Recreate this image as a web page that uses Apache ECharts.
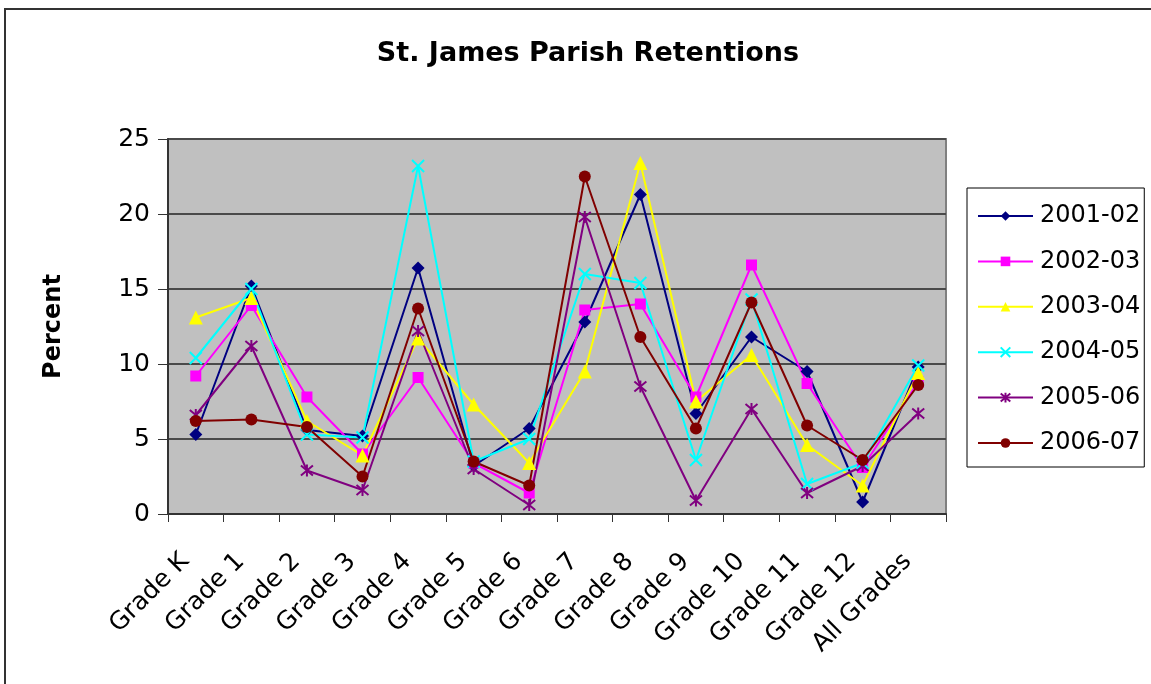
<!DOCTYPE html>
<html>
<head>
<meta charset="utf-8">
<script src="https://cdn.jsdelivr.net/npm/echarts@6/dist/echarts.min.js"></script>
<style>
html,body{margin:0;padding:0;background:#fff;}
#chart{width:1151px;height:684px;}
</style>
</head>
<body>
<div id="chart"></div>
<script>
const categories = ["Grade K","Grade 1","Grade 2","Grade 3","Grade 4","Grade 5","Grade 6","Grade 7","Grade 8","Grade 9","Grade 10","Grade 11","Grade 12","All Grades"];
const seriesNames = ["2001-02","2002-03","2003-04","2004-05","2005-06","2006-07"];
const s2001 = [5.3, 15.2, 5.6, 5.2, 16.4, 3.2, 5.7, 12.8, 21.3, 6.7, 11.8, 9.5, 0.8, 9.8];
const s2002 = [9.2, 13.9, 7.8, 4.0, 9.1, 3.4, 1.4, 13.6, 14.0, 7.8, 16.6, 8.7, 3.1, 8.8];
const s2003 = [13.1, 14.4, 6.2, 3.9, 11.7, 7.3, 3.4, 9.5, 23.4, 7.5, 10.6, 4.6, 1.9, 9.4];
const s2004 = [10.4, 15.0, 5.3, 5.1, 23.2, 3.5, 5.0, 16.0, 15.4, 3.6, 14.3, 2.0, 3.4, 9.9];
const s2005 = [6.6, 11.2, 2.9, 1.6, 12.2, 3.0, 0.6, 19.8, 8.5, 0.9, 7.0, 1.4, 3.2, 6.7];
const s2006 = [6.2, 6.3, 5.8, 2.5, 13.7, 3.5, 1.9, 22.5, 11.8, 5.7, 14.1, 5.9, 3.6, 8.6];
const yTicks = [0, 5, 10, 15, 20, 25];

const allData = [s2001, s2002, s2003, s2004, s2005, s2006];
const colors = ['#000080', '#FF00FF', '#FFFF00', '#00FFFF', '#800080', '#800000'];
const symbols = ['diamond', 'rect', 'triangle',
  'path://M0,0 L10,10 M10,0 L0,10',
  'path://M0,0 L10,10 M10,0 L0,10 M5,-1 L5,11',
  'circle'];
const symSizes = [13, 11, 14, 12, 12, 12];
const FONT = 'DejaVu Sans, sans-serif';

const chart = echarts.init(document.getElementById('chart'), null, {renderer: 'canvas'});
const series = seriesNames.map((name, i) => {
  const isPath = symbols[i].startsWith('path');
  return {
    name: name,
    type: 'line',
    data: allData[i],
    symbol: symbols[i],
    symbolSize: symSizes[i],
    showAllSymbol: true,
    lineStyle: {color: colors[i], width: 2},
    itemStyle: isPath ? {color: 'rgba(0,0,0,0)', borderColor: colors[i], borderWidth: 2}
                      : {color: colors[i], borderWidth: 0},
    emphasis: {disabled: true},
    animation: false
  };
});

chart.setOption({
  animation: false,
  backgroundColor: '#ffffff',
  title: {
    text: 'St. James Parish Retentions',
    left: 583, top: 35, textAlign: 'center',
    textStyle: {fontFamily: FONT, fontSize: 27, fontWeight: 'bold', color: '#000'}
  },
  graphic: [{
    type: 'rect', shape: {x: 5, y: 9, width: 1200, height: 700},
    style: {fill: 'none', stroke: '#333', lineWidth: 2}, silent: true
  }],
  legend: {
    orient: 'vertical', left: 967, top: 188,
    data: seriesNames,
    itemWidth: 55, itemHeight: 12, itemGap: 21.4,
    padding: [16, 4, 12, 10],
    borderColor: '#000', borderWidth: 1,
    textStyle: {fontFamily: FONT, fontSize: 24, color: '#000', padding: [0, 0, 0, 2]}
  },
  grid: {
    left: 168, right: 205, top: 139, bottom: 170,
    show: true, backgroundColor: '#C0C0C0', borderColor: '#808080', borderWidth: 2,
    containLabel: false
  },
  xAxis: {
    type: 'category', data: categories, boundaryGap: true,
    axisLine: {lineStyle: {color: '#333', width: 2}},
    axisTick: {show: true, length: 8, lineStyle: {color: '#333', width: 1}},
    axisLabel: {rotate: 45, fontFamily: FONT, fontSize: 25, color: '#000', margin: 33,
      padding: [0, 15, 0, 0], interval: 0},
    splitLine: {show: false}
  },
  yAxis: {
    type: 'value', min: 0, max: 25, interval: 5,
    name: 'Percent', nameLocation: 'middle', nameGap: 102, nameRotate: 90,
    nameTextStyle: {fontFamily: FONT, fontSize: 24, fontWeight: 'bold', color: '#000'},
    axisLine: {show: true, lineStyle: {color: '#333', width: 2}},
    axisTick: {show: true, length: 10, inside: false, lineStyle: {color: '#333', width: 1}},
    axisLabel: {fontFamily: FONT, fontSize: 25, color: '#000', margin: 18,
      formatter: v => yTicks.includes(v) ? String(v) : ''},
    splitLine: {show: true, lineStyle: {color: '#4a4a4a', width: 2}}
  },
  series: series
});
</script>
</body>
</html>
